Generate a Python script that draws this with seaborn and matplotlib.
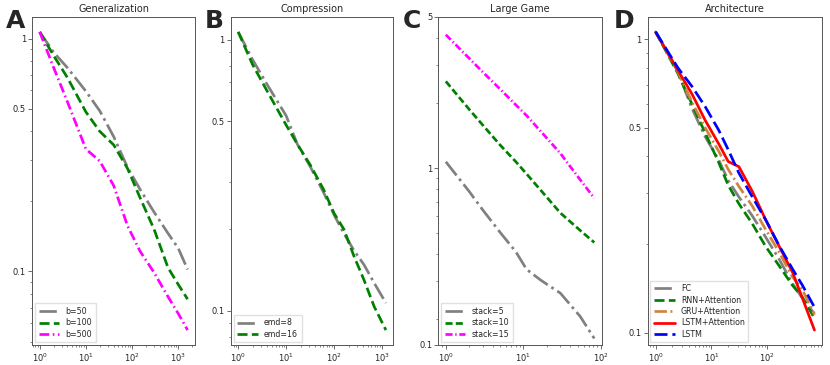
import numpy as np
import pandas as pd
import matplotlib
matplotlib.use("Agg")
import matplotlib.pyplot as plt
from matplotlib.ticker import NullFormatter, FixedLocator, FixedFormatter
import seaborn as sns

sns.set_style("ticks")
plt.rcParams['font.family'] = ['DejaVu Sans']

# ---------------- data ----------------
# Panel A: Generalization
x_A = [1, 2, 4, 10, 20, 40, 80, 150, 300, 600, 1000, 1600]
A_b50 = [1.07, 0.875, 0.75, 0.595, 0.49, 0.38, 0.28, 0.225, 0.18, 0.146, 0.126, 0.102]
A_b100 = [1.07, 0.847, 0.68, 0.485, 0.40, 0.35, 0.277, 0.207, 0.152, 0.104, 0.088, 0.076]
A_b500 = [1.07, 0.753, 0.535, 0.336, 0.298, 0.234, 0.157, 0.122, 0.099, 0.078, 0.066, 0.056]
A_labels = ["b=50", "b=100", "b=500"]

# Panel B: Compression
x_B = [1, 2, 4, 10, 17, 32, 60, 100, 160, 260, 420, 680, 1200]
B_emd8 = [1.07, 0.845, 0.685, 0.525, 0.413, 0.34, 0.274, 0.226, 0.193, 0.167, 0.148, 0.127, 0.107]
B_emd16 = [1.07, 0.81, 0.648, 0.485, 0.413, 0.345, 0.281, 0.229, 0.2, 0.159, 0.13, 0.104, 0.085]
B_labels = ["emd=8", "emd=16"]

# Panel C: Large Game
x_C = [1, 2, 3, 5, 8, 11, 17, 30, 54, 82]
C_s5 = [1.07, 0.78, 0.64, 0.505, 0.41, 0.34, 0.302, 0.264, 0.206, 0.163]
C_s10 = [2.52, 1.87, 1.58, 1.28, 1.07, 0.94, 0.785, 0.62, 0.515, 0.453]
C_s15 = [4.14, 3.22, 2.78, 2.32, 1.96, 1.75, 1.47, 1.17, 0.883, 0.726]
C_labels = ["stack=5", "stack=10", "stack=15"]

# Panel D: Architecture
x_D = [1, 2.5, 4.5, 7.7, 13.5, 20, 31, 54, 93, 163, 282, 426, 700]
D_fc = [1.06, 0.775, 0.58, 0.466, 0.388, 0.33, 0.29, 0.25, 0.212, 0.178, 0.147, 0.131, 0.116]
D_rnn = [1.06, 0.765, 0.60, 0.48, 0.38, 0.318, 0.275, 0.235, 0.197, 0.169, 0.145, 0.132, 0.112]
D_gru = [1.06, 0.775, 0.61, 0.50, 0.415, 0.36, 0.315, 0.27, 0.225, 0.188, 0.155, 0.14, 0.115]
D_lstm_att = [1.06, 0.785, 0.65, 0.53, 0.44, 0.383, 0.368, 0.303, 0.243, 0.197, 0.161, 0.131, 0.102]
D_lstm = [1.06, 0.80, 0.69, 0.59, 0.49, 0.42, 0.35, 0.29, 0.243, 0.198, 0.165, 0.145, 0.122]
D_labels = ["FC", "RNN+Attention", "GRU+Attention", "LSTM+Attention", "LSTM"]

titles = ["Generalization", "Compression", "Large Game", "Architecture"]
letters = ["A", "B", "C", "D"]

# ---------------- styles ----------------
DASHDOT = (6.4, 1.6, 1.0, 1.6)
DASHED = (3.7, 1.6)
SHORT_DASHED = (2.6, 1.2)
SHORT_DASHDOT = (3.6, 1.3, 0.6, 1.3)
TINY_DASHDOT = (2.6, 1.0, 0.5, 1.0)
LONG_DASHDOT = (4.6, 1.3, 0.7, 1.3)
LONG_DASH = (4.8, 1.8)

def long_df(x, series, labels):
    rows = []
    for lab, ys in zip(labels, series):
        for xv, yv in zip(x, ys):
            rows.append((xv, yv, lab))
    return pd.DataFrame(rows, columns=["x", "y", "series"])

W, H = 830, 365
fig = plt.figure(figsize=(8.3, 3.65), dpi=100)
top_px, bot_px = 17, 345
def add_ax(left, right):
    return fig.add_axes([left / W, (H - bot_px) / H, (right - left) / W, (bot_px - top_px) / H])

axA = add_ax(32.3, 195.0)
axB = add_ax(230.8, 393.3)
axC = add_ax(438.4, 601.7)
axD = add_ax(647.7, 822.4)

lw = 1.95
panels = [
    (axA, long_df(x_A, [A_b50, A_b100, A_b500], A_labels), A_labels,
     ["grey", "green", "magenta"], [DASHDOT, DASHED, SHORT_DASHDOT]),
    (axB, long_df(x_B, [B_emd8, B_emd16], B_labels), B_labels,
     ["grey", "green"], [DASHDOT, DASHED]),
    (axC, long_df(x_C, [C_s5, C_s10, C_s15], C_labels), C_labels,
     ["grey", "green", "magenta"], [DASHDOT, SHORT_DASHED, TINY_DASHDOT]),
    (axD, long_df(x_D, [D_fc, D_rnn, D_gru, D_lstm_att, D_lstm], D_labels), D_labels,
     ["grey", "green", "peru", "red", "blue"], [DASHDOT, DASHED, LONG_DASHDOT, "", LONG_DASH]),
]

for i, (ax, df, labels, colors, dashes) in enumerate(panels):
    sns.lineplot(data=df, x="x", y="y", hue="series", style="series",
                 hue_order=labels, style_order=labels,
                 palette=dict(zip(labels, colors)), dashes=dict(zip(labels, dashes)),
                 linewidth=lw, ax=ax, sort=False, estimator=None)
    ax.set_xscale("log")
    ax.set_yscale("log")
    ax.set_xlabel("")
    ax.set_ylabel("")
    ax.set_title(titles[i], fontsize=7, pad=3.5)
    leg = ax.get_legend()
    handles = leg.legend_handles
    for h in handles:
        h.set_linewidth(lw)
    labs = [t.get_text() for t in leg.get_texts()]
    ax.legend(handles, labs, loc="lower left", fontsize=5.7, handlelength=2.6,
              handletextpad=0.8, labelspacing=0.3, borderaxespad=0.35,
              borderpad=0.45, frameon=True, edgecolor="0.85", fancybox=False)
    for s in ax.spines.values():
        s.set_color("#555555")
        s.set_linewidth(0.7)
    ax.tick_params(which="major", length=3, width=0.6, pad=1.5, labelsize=6, color="#555555")
    ax.tick_params(which="minor", length=1.7, width=0.5, color="#555555")
    ax.xaxis.set_minor_formatter(NullFormatter())
    ax.yaxis.set_minor_formatter(NullFormatter())
    if i != 2:
        ax.yaxis.set_major_locator(FixedLocator([0.1, 0.5, 1]))
        ax.yaxis.set_major_formatter(FixedFormatter(["0.1", "0.5", "1"]))

# Panel C custom y range
axC.set_ylim(0.152, 5.0)
axC.yaxis.set_major_locator(FixedLocator([0.152, 1, 5.0]))
axC.yaxis.set_major_formatter(FixedFormatter(["0.1", "1", "5"]))

# panel letters
for lx, letter in zip([6, 205, 403, 614], letters):
    fig.text(lx / W, 1 - 28 / H, letter, fontsize=18, fontweight="bold", va="baseline", ha="left")

fig.savefig("out.png", dpi=100)
